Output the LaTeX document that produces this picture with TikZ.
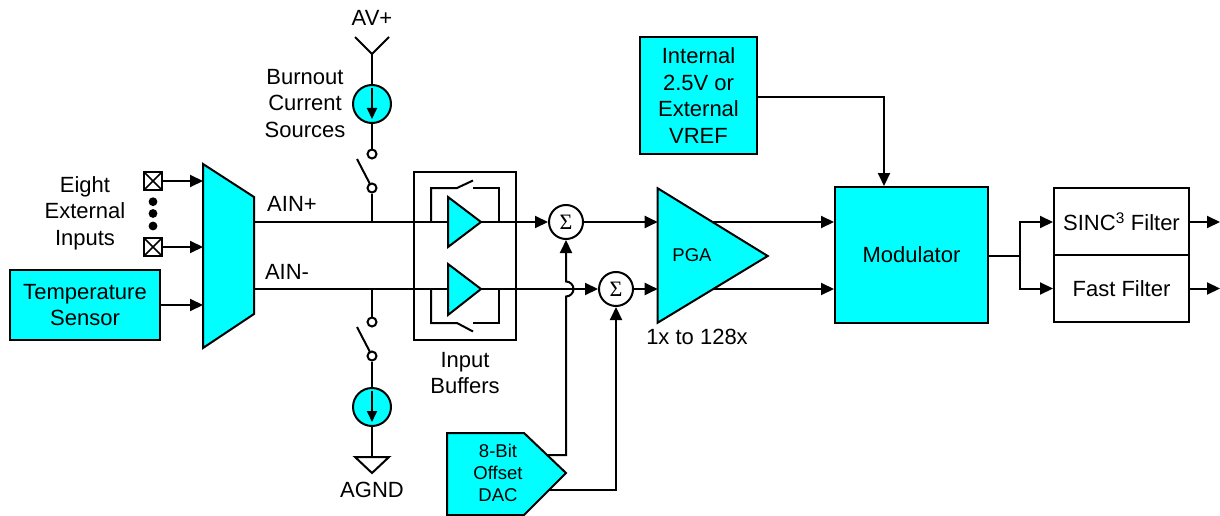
\documentclass[tikz,border=0pt]{standalone}
\usepackage{fontspec}
\setmainfont{Liberation Sans}
\newfontfamily\serifsym{Liberation Serif}
\usetikzlibrary{arrows.meta}
\definecolor{cy}{HTML}{00FFFF}
\begin{document}
\begin{tikzpicture}[x=1pt,y=-1pt,
  wire/.style={line width=2pt},
  arr/.style={wire,-{Triangle[length=13pt,width=12pt]}},
  cyshape/.style={fill=cy,draw=black,line width=2pt,line join=miter},
  lbl/.style={font=\fontsize{22}{26.5}\selectfont,align=center,inner sep=0pt},
  small/.style={font=\fontsize{18.5}{22}\selectfont,align=center,inner sep=0pt},
  blk/.style={draw=black,line width=2pt,rectangle,inner sep=0pt,align=center,font=\fontsize{22}{26.5}\selectfont},
  cyblk/.style={blk,fill=cy},
  contact/.style={circle,draw=black,line width=2pt,fill=white,minimum size=9pt,inner sep=0pt},
  src/.style={circle,draw=black,line width=2pt,fill=cy,minimum size=38pt,inner sep=0pt},
  sumnode/.style={circle,draw=black,line width=2pt,fill=white,minimum size=34pt,inner sep=0pt,font=\serifsym\fontsize{22}{22}\selectfont},
  term/.style={rectangle,draw=black,line width=1.8pt,fill=white,minimum size=18pt,inner sep=0pt,
    path picture={\draw[line width=1.5pt] (path picture bounding box.south west) -- (path picture bounding box.north east)
      (path picture bounding box.north west) -- (path picture bounding box.south east);}},
]
\useasboundingbox (0,0) rectangle (1220,516);

% ---------- coordinates ----------
\coordinate (muxTL) at (203,164);
\coordinate (muxBL) at (203,348);
\coordinate (muxTR) at (254,197);
\coordinate (muxBR) at (254,314);
\coordinate (m1) at (203,181);
\coordinate (m2) at (203,247);
\coordinate (m3) at (203,305);
\coordinate (ainP) at (254,222);
\coordinate (ainN) at (254,289);
\coordinate (jP) at (372,222);
\coordinate (jN) at (372,289);
\coordinate (ant) at (372,54);
\coordinate (gnd) at (372,457);
\coordinate (pgaInP) at (657.7,222);
\coordinate (pgaInN) at (657.7,289);
\coordinate (pgaOutP) at (713,222);
\coordinate (pgaOutN) at (713,289);
\coordinate (dacA) at (540,455);
\coordinate (dacAc) at (566,455);
\coordinate (dacB) at (540,490);
\coordinate (dacBc) at (616,490);
\coordinate (hopLo) at (566,296.5);
\coordinate (vrefC) at (884,97);
\coordinate (split) at (1020,256);
\coordinate (splitP) at (1020,222);
\coordinate (splitN) at (1020,288.5);
\coordinate (outP) at (1220,222);
\coordinate (outN) at (1220,288.5);

% ---------- blocks ----------
\node[cyblk,minimum width=150pt,minimum height=70pt] (temp) at (85,305) {Temperature\\Sensor};
\node[cyblk,minimum width=117pt,minimum height=117pt] (vref) at (698.5,95.5) {Internal\\2.5V or\\External\\VREF};
\node[cyblk,minimum width=153pt,minimum height=136pt] (mod) at (911.5,255) {Modulator};
\node[blk,minimum width=135pt,minimum height=67pt] (sinc) at (1121.5,221.5) {SINC\textsuperscript{3} Filter};
\node[blk,minimum width=135pt,minimum height=67pt] (fast) at (1121.5,288.5) {Fast Filter};
\node[blk,minimum width=102pt,minimum height=168pt] (bufbox) at (465,256) {};

% ---------- input terminals ----------
\node[term] (t1) at (153,181) {};
\node[term] (t2) at (153,247) {};
\foreach \yy in {201.7,213.5,226}
  \fill (153,\yy) circle[radius=4.4pt];
\draw[arr] (t1.east) -- (m1);
\draw[arr] (t2.east) -- (m2);
\draw[arr] (temp.east) -- (m3);

% ---------- main wires ----------
\node[sumnode] (sumA) at (566,222) {Σ};
\node[sumnode] (sumB) at (616,289) {Σ};
\draw[arr] (ainP) -- (sumA.west);
\draw[arr] (ainN) -- (sumB.west);
\draw[arr] (sumA.east) -- (pgaInP);
\draw[arr] (sumB.east) -- (pgaInN);

% DAC wires
\draw[arr] (dacA) -- (dacAc) -- (hopLo) arc[start angle=-90,end angle=90,radius=7.5pt] -- (sumA.south);
\draw[arr] (dacB) -- (dacBc) -- (sumB.south);

% ---------- mux ----------
\draw[cyshape] (muxTL) -- (muxTR) -- (muxBR) -- (muxBL) -- cycle;

% ---------- buffers ----------
\draw[cyshape] (448,197) -- (481,222) -- (448,247) -- cycle;
\draw[cyshape] (448,264) -- (481,289) -- (448,315) -- cycle;
\draw[wire] (431,222) -- (431,188) -- (457,188) -- (473,180.5);
\draw[wire] (473,188) -- (499,188) -- (499,222);
\draw[wire] (431,289) -- (431,323) -- (457,323) -- (473,331.5);
\draw[wire] (473,323) -- (499,323) -- (499,289);

% ---------- burnout sources ----------
\draw[wire] (355,37) -- (ant) -- (389,37);
\node[src] (srcA) at (372,104) {};
\node[src] (srcB) at (372,407) {};
\node[contact] (cA1) at (372,154) {};
\node[contact] (cA2) at (372,188) {};
\node[contact] (cB1) at (372,322) {};
\node[contact] (cB2) at (372,356) {};
\draw[wire] (ant) -- (srcA.north);
\draw[wire] (srcA.south) -- (cA1.north);
\draw[wire] (cA2.south) -- (jP);
\draw[wire] (jN) -- (cB1.north);
\draw[wire] (cB2.south) -- (srcB.north);
\draw[wire] (srcB.south) -- (gnd);
\draw[wire] (357,159) -- (370.5,185);
\draw[wire] (357,327) -- (370.5,353);
\draw[line width=1.8pt,-{Triangle[length=11pt,width=10pt]}] (372,88) -- (372,119);
\draw[line width=1.8pt,-{Triangle[length=11pt,width=10pt]}] (372,391) -- (372,422);
\draw[wire,line join=miter] (355,457) -- (389,457) -- (372,473) -- cycle;

% ---------- PGA ----------
\draw[cyshape] (657.7,188.3) -- (767.7,256) -- (657.7,322.7) -- cycle;
\node[small,font=\fontsize{18.5}{22}\selectfont] (pgalbl) at (692,255) {PGA};
\draw[arr] (pgaOutP) -- (mod.west |- pgaOutP);
\draw[arr] (pgaOutN) -- (mod.west |- pgaOutN);

% ---------- DAC ----------
\draw[cyshape] (447,433) -- (524,433) -- (566,473) -- (524,515) -- (447,515) -- cycle;
\node[small] (daclbl) at (498,473) {8-Bit\\Offset\\DAC};

% ---------- VREF, filters ----------
\draw[arr] (vref.east |- vrefC) -- (vrefC) -- (mod.north -| vrefC);
\draw[wire] (mod.east |- split) -- (split);
\draw[arr] (split) -- (splitP) -- (sinc.west |- splitP);
\draw[arr] (split) -- (splitN) -- (fast.west |- splitN);
\draw[arr] (sinc.east |- outP) -- (outP);
\draw[arr] (fast.east |- outN) -- (outN);

% ---------- labels ----------
\node[lbl] (lAV) at (372,18) {AV+};
\node[lbl] (lAGND) at (372,490) {AGND};
\node[lbl] (lBurn) at (305,103.5) {Burnout\\Current\\Sources};
\node[lbl] (lEight) at (85,213) {Eight\\External\\Inputs};
\node[lbl] (lAINP) at (292,204) {AIN+};
\node[lbl] (lAINN) at (287,272) {AIN-};
\node[lbl] (lBuf) at (465,373) {Input\\Buffers};
\node[lbl] (lGain) at (697,337) {1x to 128x};
\end{tikzpicture}
\end{document}
